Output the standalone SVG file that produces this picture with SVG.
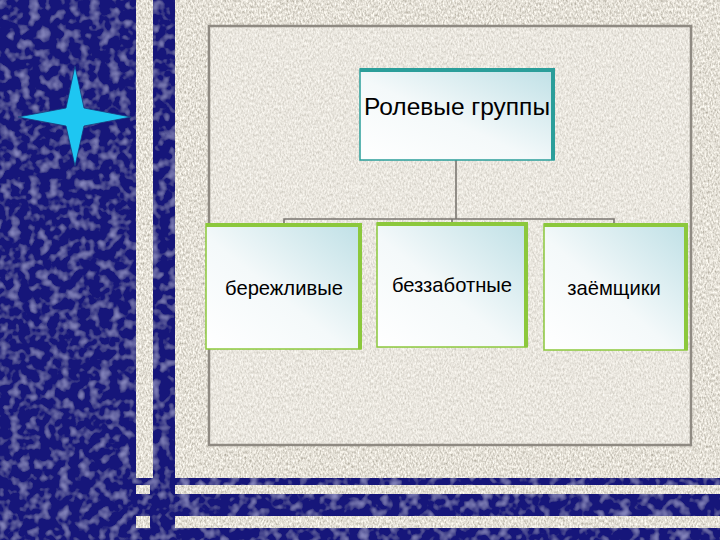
<svg xmlns="http://www.w3.org/2000/svg" width="720" height="540" viewBox="0 0 720 540">
  <defs>
    <style>
      .lbl { font-family: "Liberation Sans", Arial, sans-serif; fill: #000; text-anchor: middle; }
      .conn { stroke: #7a7670; stroke-width: 1.6; fill: none; }
      .boxG { fill: url(#gBox); stroke: #8cc83c; stroke-width: 1.5; }
      .edgeG { stroke: #8cc83c; stroke-width: 4; fill: none; }
      .boxT { fill: url(#gBox); stroke: #2b9e9a; stroke-width: 1.5; }
      .edgeT { stroke: #2b9e9a; stroke-width: 4; fill: none; }
    </style>
    <linearGradient id="gBox" x1="0" y1="1" x2="1" y2="0">
      <stop offset="0" stop-color="#ffffff"/>
      <stop offset="0.45" stop-color="#f4f9fa"/>
      <stop offset="1" stop-color="#bfe0e6"/>
    </linearGradient>
    <filter id="navyTex" x="0" y="0" width="100%" height="100%">
      <feTurbulence type="fractalNoise" baseFrequency="0.1" numOctaves="2" seed="4" result="n"/>
      <feColorMatrix in="n" type="matrix" values="0 0 0 0 0.32  0 0 0 0 0.32  0 0 0 0 0.62  1.9 0 0 0 -0.92" result="spots"/>
      <feComposite in="spots" in2="SourceGraphic" operator="over" result="m"/>
      <feComposite in="m" in2="SourceAlpha" operator="in"/>
    </filter>
    <filter id="beigeTex" x="0" y="0" width="100%" height="100%">
      <feTurbulence type="fractalNoise" baseFrequency="0.6 0.35" numOctaves="2" seed="7" result="n"/>
      <feColorMatrix in="n" type="matrix" values="0.9 0 0 0 0.33  0.9 0 0 0 0.30  0.9 0 0 0 0.23  0 0 0 0 1" result="c"/>
      <feComposite in="c" in2="SourceAlpha" operator="in"/>
    </filter>
  </defs>

  <!-- background -->
  <rect x="0" y="0" width="720" height="540" fill="#15157a" filter="url(#navyTex)"/>
  <g filter="url(#beigeTex)" fill="#d6cdbc">
    <rect x="136" y="0" width="17" height="478"/>
    <rect x="175" y="0" width="545" height="478"/>
    <rect x="136" y="485" width="14" height="9"/>
    <rect x="175" y="485" width="545" height="9"/>
    <rect x="136" y="516" width="14" height="12"/>
    <rect x="175" y="516" width="545" height="12"/>
  </g>
  <rect x="209" y="26" width="482" height="419" fill="#f2efea" fill-opacity="0.4" stroke="#8f8a82" stroke-width="2.5"/>

  <!-- star -->
  <path d="M75,66 L84,108 L131,117 L84,126 L75,166 L66,126 L18,117 L66,108 Z" fill="#1ec6f2" stroke="#1a3a7a" stroke-width="0.8"/>

  <!-- connectors -->
  <g id="connectors">
    <path class="conn" d="M456,160 V219"/>
    <path class="conn" d="M284,223 V219 H614 V223"/>
    <path class="conn" d="M452,219 V223"/>
  </g>

  <g id="node-root">
    <rect class="boxT" x="360" y="69" width="194" height="91"/>
    <path class="edgeT" d="M360,70 H553 V160"/>
    <text class="lbl" x="457" y="115" font-size="24.5">Ролевые группы</text>
  </g>

  <g id="node-savers">
    <rect class="boxG" x="206" y="224" width="155" height="125"/>
    <path class="edgeG" d="M206,225 H360 V349"/>
    <text class="lbl" x="284" y="295" font-size="20.2">бережливые</text>
  </g>

  <g id="node-carefree">
    <rect class="boxG" x="377" y="223" width="150" height="124"/>
    <path class="edgeG" d="M377,224 H526 V347"/>
    <text class="lbl" x="452" y="292" font-size="20.2">беззаботные</text>
  </g>

  <g id="node-borrowers">
    <rect class="boxG" x="544" y="224" width="143" height="126"/>
    <path class="edgeG" d="M544,225 H686 V350"/>
    <text class="lbl" x="614" y="295" font-size="20.2">заёмщики</text>
  </g>
</svg>
